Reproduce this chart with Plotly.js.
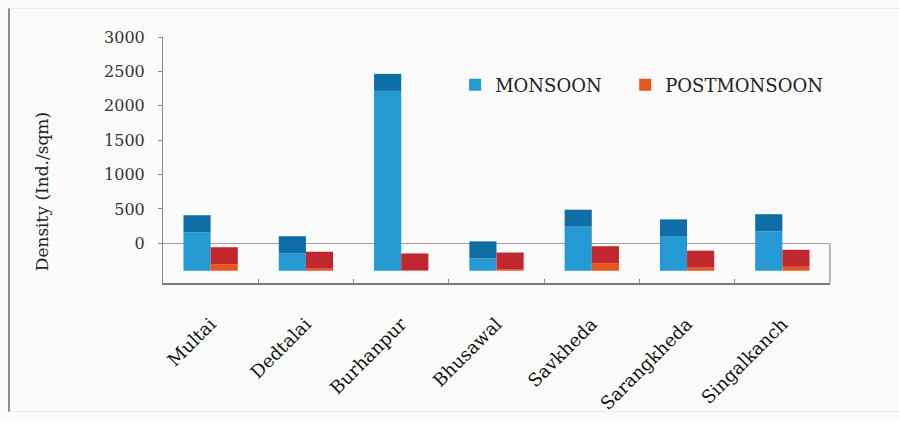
<!DOCTYPE html>
<html>
<head>
<meta charset="utf-8">
<script src="https://cdn.plot.ly/plotly-3.0.1.min.js"></script>
<style>
  html, body { margin: 0; padding: 0; background: #ffffff; }
  #wrap { position: relative; width: 899px; height: 421px; }
  #chart { position: absolute; left: 0; top: 0; width: 899px; height: 421px; }
  #frame {
    position: absolute; left: 8px; top: 8px; width: 891px; height: 404px;
    border-left: 2px solid #8c8c8c; border-top: 1px solid #ececec; border-bottom: 1px solid #ececec;
    pointer-events: none; box-sizing: border-box;
  }
</style>
</head>
<body>
<div id="wrap">
  <div id="chart"></div>
  <div id="frame"></div>
</div>
<script>
// Sampling sites along the river
const sites = ['Multai', 'Dedtalai', 'Burhanpur', 'Bhusawal', 'Savkheda', 'Sarangkheda', 'Singalkanch'];
// Density (Ind./sqm) per season
const monsoon = [560, 255, 2615, 180, 640, 500, 575];
const postmonsoon = [95, 30, 5, 18, 110, 45, 58];
// Value-axis ticks
const yTicks = [0, 500, 1000, 1500, 2000, 2500, 3000];

// Pseudo-3D column look: columns stand on a floor drawn below the zero plane,
// with a darker top face above the front face.
const FLOOR = -398;      // front edge of the floor, in axis units
const CAP = 247;         // depth of the top face, in axis units
const Y_MIN = -576;      // bottom of the floor
const BAR_W = 0.285;

const serif = 'DejaVu Serif, Liberation Serif, serif';

function column(name, values, front, top, offset, legendId) {
  return [
    {
      type: 'bar', name: name, x: sites, y: values,
      base: values.map(() => FLOOR),
      offset: offset, width: BAR_W,
      marker: { color: front, line: { width: 0 } },
      legend: legendId, showlegend: true, hoverinfo: 'x+y'
    },
    {
      type: 'bar', name: name + ' top', x: sites, y: values.map(() => CAP),
      base: values.map(v => v + FLOOR),
      offset: offset, width: BAR_W,
      marker: { color: top, line: { width: 0 } },
      showlegend: false, hoverinfo: 'skip'
    }
  ];
}

const data = [
  ...column('MONSOON', monsoon, '#2499d2', '#0f6ea6', -BAR_W, 'legend'),
  ...column('POSTMONSOON', postmonsoon, '#e8561f', '#c1282e', 0, 'legend2')
];

const legendStyle = {
  orientation: 'h', xanchor: 'left', yanchor: 'middle', y: 0.805,
  bgcolor: 'rgba(0,0,0,0)', borderwidth: 0,
  font: { family: serif, size: 18, color: '#222' }
};

const layout = {
  width: 899, height: 421,
  margin: { l: 163, r: 69, t: 37, b: 138 },
  paper_bgcolor: '#fbfbfb',
  plot_bgcolor: 'rgba(0,0,0,0)',
  barmode: 'overlay',
  font: { family: serif, color: '#222' },
  xaxis: {
    type: 'category',
    range: [-0.5, sites.length - 0.5],
    showgrid: false, zeroline: false,
    showline: true, linecolor: '#7a7a7a', linewidth: 1.5,
    ticks: 'inside', ticklen: 4, tickcolor: '#8a8a8a', tickson: 'boundaries',
    tickangle: -45,
    tickfont: { family: serif, size: 18, color: '#111' },
    ticklabelstandoff: 22
  },
  yaxis: {
    range: [Y_MIN, 3000],
    tickvals: yTicks,
    ticktext: yTicks.map(String),
    showgrid: false,
    zeroline: true, zerolinecolor: '#a0a0a0', zerolinewidth: 1,
    showline: true, linecolor: '#8a8a8a', linewidth: 1,
    ticks: 'outside', ticklen: 4, tickcolor: '#8a8a8a',
    tickfont: { family: serif, size: 16, color: '#333' },
    ticklabelstandoff: 10
  },
  legend: Object.assign({ x: 0.438 }, legendStyle),
  legend2: Object.assign({ x: 0.693 }, legendStyle),
  shapes: [
    // right edge of the floor
    { type: 'line', xref: 'paper', yref: 'y', x0: 1, x1: 1, y0: Y_MIN, y1: 0,
      line: { color: '#a0a0a0', width: 1.5 } }
  ],
  annotations: [
    { text: 'Density (Ind./sqm)', textangle: -90, showarrow: false,
      xref: 'paper', yref: 'paper', x: -0.181, y: 0.37, xanchor: 'center', yanchor: 'middle',
      font: { family: serif, size: 17, color: '#222' } }
  ]
};

Plotly.newPlot('chart', data, layout, { staticPlot: true, displayModeBar: false });
</script>
</body>
</html>
